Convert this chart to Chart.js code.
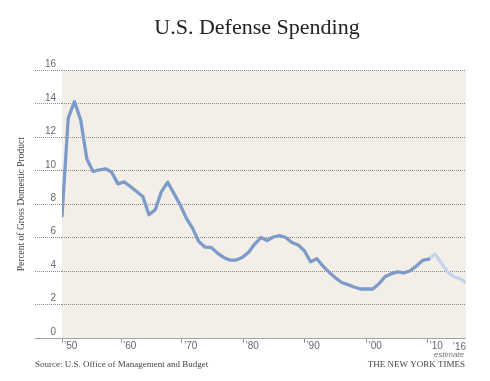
<!DOCTYPE html>
<html>
<head>
<meta charset="utf-8">
<script src="https://cdn.jsdelivr.net/npm/chart.js@4"></script>
<style>
  html, body { margin: 0; padding: 0; background: #ffffff; }
  canvas { display: block; }
</style>
</head>
<body>
<canvas id="c" width="490" height="381"></canvas>
<script>
// ---- data ----
const actualYears = [1951,1952,1953,1954,1955,1956,1957,1958,1959,1960,
                     1961,1962,1963,1964,1965,1966,1967,1968,1969,1970,
                     1971,1972,1973,1974,1975,1976,1977,1978,1979,1980,
                     1981,1982,1983,1984,1985,1986,1987,1988,1989,1990,
                     1991,1992,1993,1994,1995,1996,1997,1998,1999,2000,
                     2001,2002,2003,2004,2005,2006,2007,2008,2009,2010];
const actualValues = [7.3,13.15,14.14,13.05,10.7,9.96,10.05,10.12,9.92,9.22,
                      9.34,9.06,8.76,8.46,7.37,7.67,8.76,9.32,8.65,7.97,
                      7.17,6.57,5.77,5.44,5.42,5.08,4.82,4.66,4.66,4.82,
                      5.12,5.62,6.01,5.83,6.04,6.13,6.01,5.71,5.56,5.22,
                      4.56,4.74,4.3,3.92,3.6,3.32,3.19,3.05,2.93,2.93,
                      2.93,3.25,3.68,3.85,3.95,3.89,4.02,4.3,4.64,4.72];
const estimateYears  = [2010,2011,2012,2013,2014,2015,2016];
const estimateValues = [4.72,5.02,4.5,3.97,3.68,3.55,3.32];

const xTickValues = [1951,1960.5,1970.3,1980.2,1990,2000,2009.8];
const xTickLabels = ["\u201950","\u201960","\u201970","\u201980","\u201990","\u201900","\u201910"];
const lastLabel = "\u201916";
const yTicks = [0,2,4,6,8,10,12,14,16];

const titleText = 'U.S. Defense Spending';
const sourceText = 'Source: U.S. Office of Management and Budget';
const creditText = 'THE NEW YORK TIMES';

const toPts = (xs, ys) => xs.map((x, i) => ({x: x, y: ys[i]}));

const decor = {
  id: 'decor',
  beforeDraw(chart) {
    const {ctx, chartArea: a} = chart;
    ctx.save();
    ctx.fillStyle = '#f3efe8';
    ctx.fillRect(a.left, a.top, a.right - a.left, a.bottom - a.top);
    ctx.restore();
  },
  afterDraw(chart) {
    const {ctx} = chart;
    const xs = chart.scales.x;
    const xEnd = xs.getPixelForValue(2016);
    ctx.save();
    ctx.textBaseline = 'alphabetic';
    ctx.fillStyle = '#222';
    ctx.font = '22px "Liberation Serif", "Times New Roman", serif';
    ctx.textAlign = 'center';
    ctx.fillText(titleText, 257, 33.5);
    ctx.fillStyle = '#666';
    ctx.font = '10px "Liberation Sans", Arial, sans-serif';
    ctx.textAlign = 'right';
    ctx.fillText(lastLabel, xEnd, 349.5);
    ctx.font = 'italic 8px "Liberation Sans", Arial, sans-serif';
    ctx.fillStyle = '#777';
    ctx.fillText('estimate', xEnd - 2, 357);
    ctx.font = '9px "Liberation Serif", "Times New Roman", serif';
    ctx.fillStyle = '#444';
    ctx.textAlign = 'left';
    ctx.fillText(sourceText, 35, 367);
    ctx.textAlign = 'right';
    ctx.fillText(creditText, 465, 367);
    ctx.restore();
  }
};

new Chart(document.getElementById('c'), {
  type: 'line',
  data: {
    datasets: [
      {
        label: 'Actual',
        data: toPts(actualYears, actualValues),
        borderColor: '#7d9bc8',
        borderWidth: 3.3,
        pointRadius: 0,
        tension: 0,
        borderJoinStyle: 'round',
        borderCapStyle: 'round',
        fill: false
      },
      {
        label: 'Estimate',
        data: toPts(estimateYears, estimateValues),
        borderColor: '#c4d4e9',
        borderWidth: 3.3,
        pointRadius: 0,
        tension: 0,
        borderJoinStyle: 'round',
        borderCapStyle: 'round',
        fill: false
      }
    ]
  },
  options: {
    responsive: false,
    animation: false,
    layout: { padding: { left: 0, right: 24, top: 70.5, bottom: 0 } },
    plugins: {
      legend: { display: false },
      tooltip: { enabled: false },
      title: { display: false }
    },
    scales: {
      x: {
        type: 'linear',
        min: 1951,
        max: 2016,
        afterBuildTicks: (s) => { s.ticks = xTickValues.map(v => ({value: v})); },
        afterFit: (s) => { s.height = 43; },
        ticks: {
          autoSkip: false,
          maxRotation: 0,
          align: 'start',
          labelOffset: 2,
          padding: -3,
          color: '#666',
          font: { family: '"Liberation Sans", Arial, sans-serif', size: 10 },
          callback: (v, i) => xTickLabels[i]
        },
        grid: {
          drawOnChartArea: false,
          drawTicks: true,
          tickLength: 5,
          color: '#999',
          lineWidth: 1
        },
        border: { display: false }
      },
      y: {
        min: 0,
        max: 16,
        afterBuildTicks: (s) => { s.ticks = yTicks.map(v => ({value: v})); },
        afterFit: (s) => { s.width = 62; },
        ticks: {
          padding: -21,
          labelOffset: -6,
          color: '#6a6a6a',
          font: { family: '"Liberation Sans", Arial, sans-serif', size: 10 }
        },
        grid: {
          drawTicks: true,
          tickLength: 27,
          color: (c) => c.tick && c.tick.value === 0 ? '#a3a3a3' : '#8c8c8c',
          lineWidth: 1,
          tickBorderDash: (c) => c.tick && c.tick.value === 0 ? [] : [1, 1]
        },
        border: {
          display: false,
          dash: (c) => c.tick && c.tick.value === 0 ? [] : [1, 1]
        },
        title: {
          display: true,
          text: 'Percent of Gross Domestic Product',
          color: '#444',
          font: { family: '"Liberation Serif", "Times New Roman", serif', size: 9.5, lineHeight: 1.2 },
          padding: { top: 15.5, bottom: 0 }
        }
      }
    }
  },
  plugins: [decor]
});
</script>
</body>
</html>
